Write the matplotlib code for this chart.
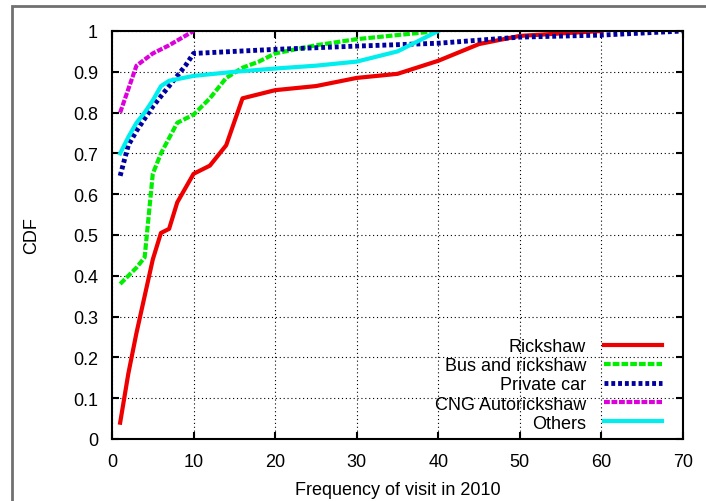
import numpy as np
import matplotlib
matplotlib.use("Agg")
import matplotlib.pyplot as plt
from matplotlib.patches import Rectangle

plt.rcParams['font.family'] = ['Liberation Sans', 'DejaVu Sans']

# data
rick_x = [1, 2, 3, 4, 5, 6, 7, 8, 10, 12, 14, 16, 20, 25, 30, 35, 40, 45, 50, 60]
rick_y = [0.04, 0.16, 0.26, 0.35, 0.44, 0.505, 0.515, 0.58, 0.65, 0.67, 0.72,
          0.835, 0.855, 0.865, 0.885, 0.895, 0.927, 0.968, 0.988, 1.0]

bus_x = [1, 2, 3, 4, 5, 6, 8, 10, 12, 14, 16, 18, 20, 25, 30, 35, 40]
bus_y = [0.38, 0.40, 0.42, 0.445, 0.65, 0.70, 0.775, 0.795, 0.835, 0.885, 0.91,
         0.925, 0.945, 0.965, 0.98, 0.99, 1.0]

car_x = [1, 2, 3, 4, 5, 6, 7, 8, 9, 10, 20, 30, 40, 50, 60, 70]
car_y = [0.645, 0.72, 0.755, 0.785, 0.815, 0.84, 0.865, 0.89, 0.915, 0.945,
         0.955, 0.963, 0.97, 0.985, 0.99, 1.0]

cng_x = [1, 3, 5, 7, 10]
cng_y = [0.80, 0.915, 0.945, 0.965, 1.0]

oth_x = [1, 2, 3, 4, 5, 6, 7, 10, 15, 20, 25, 30, 35, 40]
oth_y = [0.70, 0.74, 0.775, 0.80, 0.83, 0.865, 0.878, 0.89, 0.90, 0.908, 0.915,
         0.925, 0.95, 1.0]

xticks = np.arange(0, 71, 10)
yticks = np.arange(0, 1.01, 0.1)

fig = plt.figure(figsize=(7.06, 5.02), dpi=100)
ax = fig.add_axes([112 / 706, 1 - 440 / 502, (683 - 112) / 706, (440 - 32) / 502])

# outer grey frame
fig.patches.append(Rectangle((12 / 706, -0.05), 1.2, 1 - 7 / 502 + 0.05,
                             transform=fig.transFigure, fill=False,
                             edgecolor='#707070', lw=2))

ax.plot(rick_x, rick_y, color='#ee0000', lw=3, label='Rickshaw')
ax.plot(bus_x, bus_y, color='#00ee00', lw=3, dashes=(1.6, 0.5), label='Bus and rickshaw')
ax.plot(car_x, car_y, color='#0000a0', lw=3.5, dashes=(0.8, 0.6), label='Private car')
ax.plot(cng_x, cng_y, color='#dd00dd', lw=3, dashes=(1.4, 0.4), label='CNG Autorickshaw')
ax.plot(oth_x, oth_y, color='#00eeee', lw=3, label='Others')

ax.set_xlim(0, 70)
ax.set_ylim(0, 1)
ax.set_xticks(xticks)
ax.set_yticks(yticks)
ax.set_yticklabels(['0'] + ['%.1f' % v for v in yticks[1:-1]] + ['1'])
ax.tick_params(direction='in', top=True, right=True, length=5, width=1.5,
               labelsize=13, pad=10)
for s in ax.spines.values():
    s.set_linewidth(1.5)
ax.grid(True, color='black', ls=(0, (1, 2.5)), lw=0.8)

ax.set_xlabel('Frequency of visit in 2010', fontsize=13, labelpad=8)
ax.set_ylabel('CDF', fontsize=13, labelpad=24)

leg = ax.legend(loc='lower right', bbox_to_anchor=(1 - 14 / 571, 0.0),
                frameon=False, markerfirst=False, fontsize=13,
                handlelength=3.2, handletextpad=1.0, labelspacing=0.12,
                borderaxespad=0.0, alignment='right')

fig.savefig('out.png', dpi=100)
